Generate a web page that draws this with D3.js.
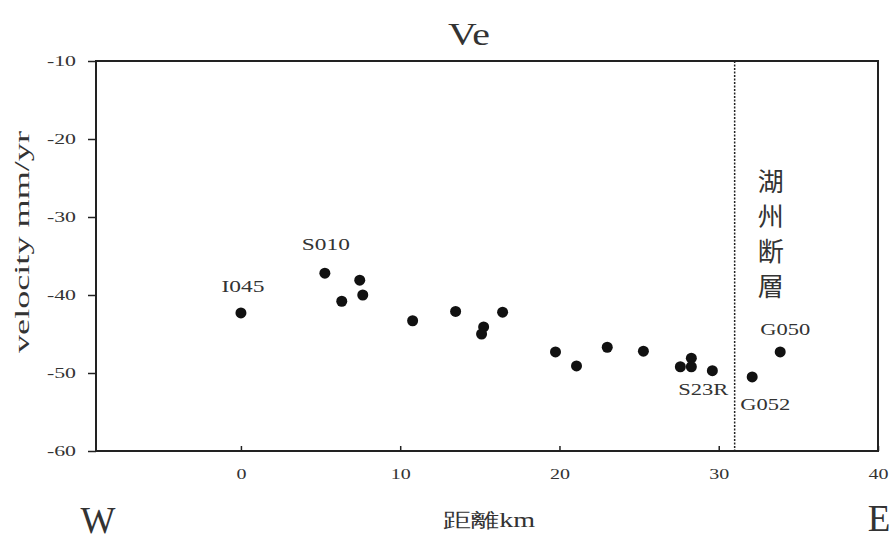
<!DOCTYPE html>
<html>
<head>
<meta charset="utf-8">
<script src="https://cdn.jsdelivr.net/npm/d3@7"></script>
<style>
  body { margin: 0; background: #fff; }
  svg text { font-family: "Liberation Serif", "DejaVu Serif", serif; fill: #333; }
</style>
</head>
<body>
<div id="chart"></div>
<script>
// distance (km) and east velocity (mm/yr)
const distance = [0, 5.27, 6.33, 7.46, 7.65, 10.78, 13.48, 15.24, 15.11, 16.43,
  19.75, 21.07, 23.0, 25.27, 27.59, 28.28, 28.28, 29.6, 32.1, 33.86]
const velocity = [-42.3, -37.2, -40.8, -38.1, -40.0, -43.3, -42.1, -44.1, -45.0, -42.2,
  -47.3, -49.1, -46.7, -47.2, -49.2, -48.1, -49.2, -49.7, -50.5, -47.3]
const stationLabels = [
  { name: 'I045', i: 0, dx: 2, dy: -21, w: 43 },
  { name: 'S010', i: 1, dx: 1, dy: -23, w: 48 },
  { name: 'S23R', i: 17, dx: -9, dy: 24, w: 50 },
  { name: 'G052', i: 18, dx: 13, dy: 33, w: 50 },
  { name: 'G050', i: 19, dx: 5, dy: -17, w: 50 }
]
const xTicks = [0, 10, 20, 30, 40]
const yTicks = [-10, -20, -30, -40, -50, -60]
const faultX = 31
const faultName = ['湖', '州', '断', '層']

const width = 894
const height = 541
const margin = { top: 61, right: 16, bottom: 90, left: 96 }

const svg = d3.select('#chart')
  .append('svg')
  .attr('width', width)
  .attr('height', height)

const x = d3.scaleLinear().domain([-9.1, 40]).range([margin.left, width - margin.right])
const y = d3.scaleLinear().domain([-60, -10]).range([height - margin.bottom, margin.top])

// frame
svg.append('rect')
  .attr('x', x(-9.1))
  .attr('y', y(-10))
  .attr('width', x(40) - x(-9.1))
  .attr('height', y(-60) - y(-10))
  .attr('fill', 'none')
  .attr('stroke', '#222')
  .attr('stroke-width', 2)

// axes (the source stretches its digits sideways)
const yAxis = svg.append('g')
  .attr('transform', `translate(${x(-9.1)},0)`)
  .call(d3.axisLeft(y).tickValues(yTicks).tickSize(8).tickPadding(12).tickFormat(d => String(d)))
yAxis.select('.domain').remove()
yAxis.selectAll('line').attr('stroke', '#222').attr('stroke-width', 1.5)
yAxis.selectAll('text')
  .style('font-size', '14px')
  .attr('fill', '#444')
  .attr('textLength', d => String(d).length * 9.7)
  .attr('lengthAdjust', 'spacingAndGlyphs')

const xAxis = svg.append('g')
  .attr('transform', `translate(0,${y(-60)})`)
  .call(d3.axisBottom(x).tickValues(xTicks).tickSize(-5).tickPadding(18).tickFormat(d => String(d)))
xAxis.select('.domain').remove()
xAxis.selectAll('line').attr('stroke', '#222').attr('stroke-width', 1.5)
xAxis.selectAll('text')
  .style('font-size', '14px')
  .attr('fill', '#444')
  .attr('textLength', d => String(d).length * 10)
  .attr('lengthAdjust', 'spacingAndGlyphs')

// fault line
svg.append('line')
  .attr('x1', x(faultX)).attr('x2', x(faultX))
  .attr('y1', y(-10)).attr('y2', y(-60))
  .attr('stroke', '#222')
  .attr('stroke-width', 1.5)
  .attr('stroke-dasharray', '2,1.5')

svg.append('g')
  .selectAll('text')
  .data(faultName)
  .enter()
  .append('text')
  .attr('x', x(faultX) + 36)
  .attr('y', (d, i) => 179 + i * 35)
  .attr('dominant-baseline', 'central')
  .attr('text-anchor', 'middle')
  .style('font-family', '"Noto Sans CJK JP", "Noto Sans CJK TC", sans-serif')
  .style('font-size', '26px')
  .attr('fill', '#444')
  .text(d => d)

// points
svg.append('g')
  .selectAll('circle')
  .data(distance)
  .enter()
  .append('circle')
  .attr('cx', d => x(d))
  .attr('cy', (d, i) => y(velocity[i]))
  .attr('r', 5.5)
  .attr('fill', '#111')

svg.append('g')
  .selectAll('text')
  .data(stationLabels)
  .enter()
  .append('text')
  .attr('x', d => x(distance[d.i]) + d.dx)
  .attr('y', d => y(velocity[d.i]) + d.dy)
  .attr('text-anchor', 'middle')
  .style('font-size', '17px')
  .attr('fill', '#444')
  .attr('textLength', d => d.w)
  .attr('lengthAdjust', 'spacingAndGlyphs')
  .text(d => d.name)

// titles
svg.append('text')
  .attr('x', 469).attr('y', 45)
  .attr('text-anchor', 'middle')
  .style('font-size', '32px')
  .attr('fill', '#222')
  .attr('textLength', 42)
  .attr('lengthAdjust', 'spacingAndGlyphs')
  .text('Ve')

svg.append('text')
  .attr('transform', `translate(29,242) rotate(-90)`)
  .attr('text-anchor', 'middle')
  .style('font-size', '20px')
  .attr('fill', '#333')
  .attr('textLength', 222)
  .attr('lengthAdjust', 'spacingAndGlyphs')
  .text('velocity mm/yr')

svg.append('text')
  .attr('x', 489).attr('y', 527)
  .attr('text-anchor', 'middle')
  .style('font-size', '20px')
  .attr('fill', '#333')
  .attr('textLength', 92)
  .attr('lengthAdjust', 'spacingAndGlyphs')
  .text('距離km')

svg.append('text')
  .attr('x', 98).attr('y', 533)
  .attr('text-anchor', 'middle')
  .style('font-size', '37px')
  .attr('fill', '#333')
  .text('W')

svg.append('text')
  .attr('x', 879).attr('y', 531)
  .attr('text-anchor', 'middle')
  .style('font-size', '37px')
  .attr('fill', '#333')
  .text('E')
</script>
</body>
</html>
